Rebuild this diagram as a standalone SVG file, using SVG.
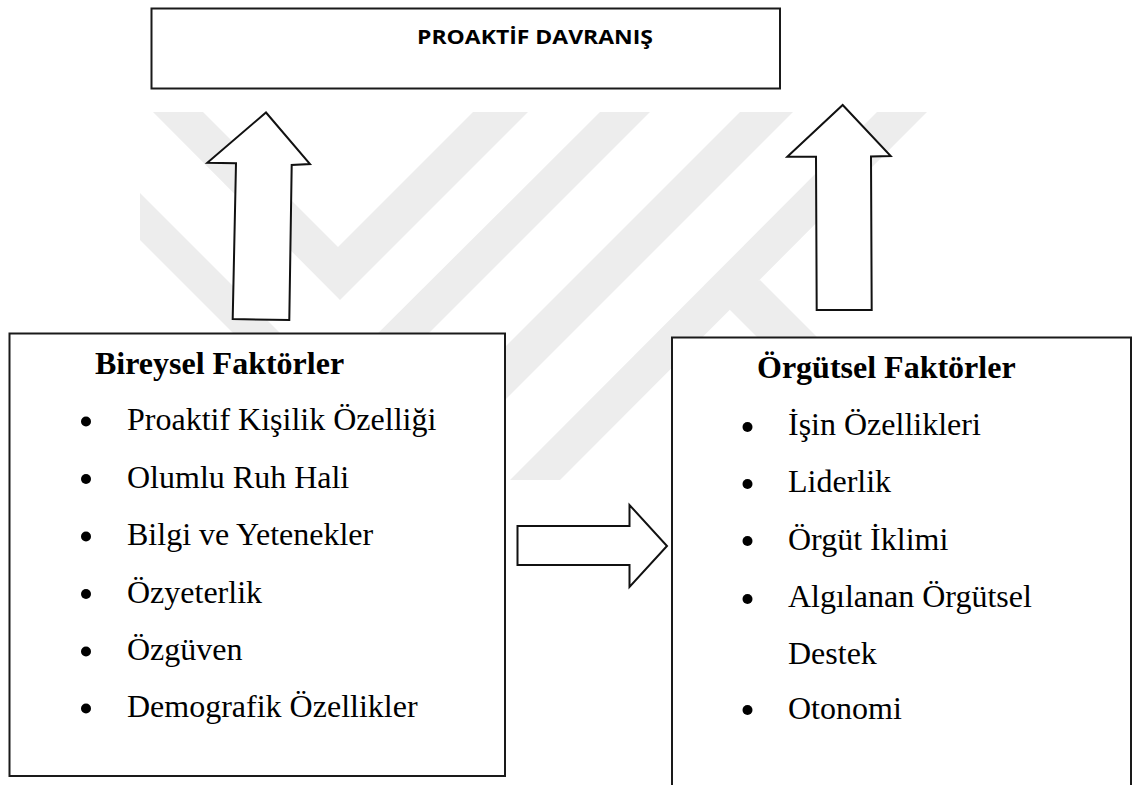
<svg xmlns="http://www.w3.org/2000/svg" width="1132" height="785" viewBox="0 0 1132 785">
  <style>
    .wm { fill: #ededed; stroke: none; }
    .box { fill: #ffffff; stroke: #1a1a1a; stroke-width: 2; }
    .arrow { fill: #ffffff; stroke: #111111; stroke-width: 2; stroke-linejoin: miter; }
    .head { font-family: "Liberation Serif", "Times New Roman", serif; font-weight: bold; font-size: 32px; fill: #000; }
    .item { font-family: "Liberation Serif", "Times New Roman", serif; font-size: 32px; fill: #000; }
    .title { font-family: "Open Sans", "Liberation Sans", sans-serif; font-weight: bold; font-size: 20px; fill: #000; }
    .bullet { fill: #000; }
  </style>
  <rect x="0" y="0" width="1132" height="785" fill="#ffffff"/>
  <g id="watermark">
    <polygon class="wm" points="153,112 203,112 338,247 473,112 528,112 340,300"/>
    <polygon class="wm" points="140,193 329,382 600,112 650,112 331,431 140,240"/>
    <polygon class="wm" points="740,112 793,112 425,480 372,480"/>
    <polygon class="wm" points="877,112 927,112 560,480 510,480"/>
    <polygon class="wm" points="720,300 760,280 860,380 800,380"/>
  </g>
  <g id="node-proaktif">
    <rect class="box" x="151.5" y="8.5" width="628.5" height="80"/>
    <text class="title" x="417" y="44" textLength="236" lengthAdjust="spacingAndGlyphs">PROAKTİF DAVRANIŞ</text>
  </g>
  <g id="node-bireysel">
    <rect class="box" x="9.5" y="333.5" width="495.5" height="442.5"/>
    <text class="head" x="95" y="374">Bireysel Faktörler</text>
    <circle class="bullet" cx="86" cy="421.5" r="5"/>
    <text class="item" x="127" y="430">Proaktif Kişilik Özelliği</text>
    <circle class="bullet" cx="86" cy="479" r="5"/>
    <text class="item" x="127" y="487.5">Olumlu Ruh Hali</text>
    <circle class="bullet" cx="86" cy="536.5" r="5"/>
    <text class="item" x="127" y="545">Bilgi ve Yetenekler</text>
    <circle class="bullet" cx="86" cy="594" r="5"/>
    <text class="item" x="127" y="602.5">Özyeterlik</text>
    <circle class="bullet" cx="86" cy="651.5" r="5"/>
    <text class="item" x="127" y="660">Özgüven</text>
    <circle class="bullet" cx="86" cy="708.5" r="5"/>
    <text class="item" x="127" y="717">Demografik Özellikler</text>
  </g>
  <g id="node-orgutsel">
    <rect class="box" x="672" y="337.5" width="459" height="470"/>
    <text class="head" x="757" y="378">Örgütsel Faktörler</text>
    <circle class="bullet" cx="747.5" cy="427" r="5"/>
    <text class="item" x="788" y="435">İşin Özellikleri</text>
    <circle class="bullet" cx="747.5" cy="484" r="5"/>
    <text class="item" x="788" y="492">Liderlik</text>
    <circle class="bullet" cx="747.5" cy="541" r="5"/>
    <text class="item" x="788" y="549.5">Örgüt İklimi</text>
    <circle class="bullet" cx="747.5" cy="599" r="5"/>
    <text class="item" x="788" y="607">Algılanan Örgütsel</text>
    <text class="item" x="788" y="663.5">Destek</text>
    <circle class="bullet" cx="747.5" cy="710" r="5"/>
    <text class="item" x="788" y="718.5">Otonomi</text>
  </g>
  <g id="connectors">
    <polygon class="arrow" points="266,112.5 310,164 291.7,165 289.3,320 232.7,319 236,163.3 207.3,162.7"/>
    <polygon class="arrow" points="842.7,105 890.7,156 871,156.5 871.7,310 816.7,310 816,156.7 787.3,156.7"/>
    <polygon class="arrow" points="517.5,526 629.5,526 629.5,505 667,546 629.5,587 629.5,565 517.5,565"/>
  </g>
</svg>
